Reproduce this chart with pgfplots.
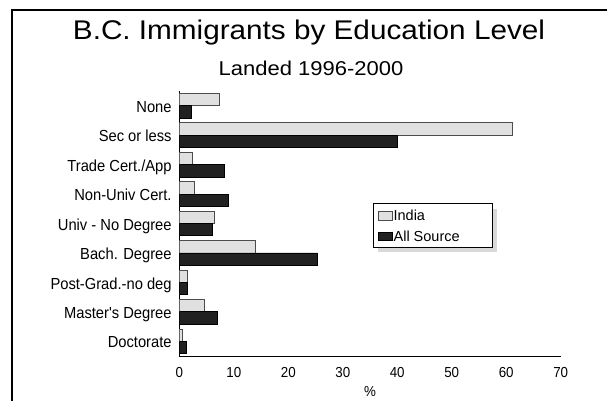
\documentclass[border=0pt]{standalone}
\usepackage{fontspec}
\setmainfont{Liberation Sans}
\newfontfamily\narrowfont{Liberation Sans}[FakeStretch=0.92]
\newfontfamily\widefont{Liberation Sans}[FakeStretch=1.1]
\usepackage{pgfplots}
\pgfplotsset{compat=1.18}
\begin{document}
\begin{tikzpicture}[x=1pt,y=1pt]
% frame (only top and left visible in the reference)
\draw[line width=2pt] (12,-2) -- (12,390) -- (609,390);
\node[anchor=base, font=\widefont\fontsize{27}{30}\selectfont, inner sep=0pt] at (309,360.7) {B.C. Immigrants by Education Level};
\node[anchor=base, font=\widefont\fontsize{20}{24}\selectfont, inner sep=0pt] at (311,325) {Landed 1996-2000};
% legend shadow
\fill[black!15] (378.3,147.7) rectangle (496.7,190.7);
\begin{axis}[
  at={(179.3pt,44pt)}, anchor=south west,
  scale only axis, width=381.4pt, height=265pt,
  xbar, bar width=0.42,
  xmin=0, xmax=70,
  ymin=-0.5, ymax=8.5, y dir=reverse,
  axis x line*=bottom, axis y line*=left,
  axis line style={-, line width=1pt, black},
  major tick length=0pt,
  xtick={0,10,...,70},
  ytick={0,...,8},
  yticklabels={None,Sec or less,Trade Cert./App,Non-Univ Cert.,Univ - No Degree,Bach. Degree,Post-Grad.-no deg,Master's Degree,Doctorate},
  yticklabel style={font=\narrowfont\fontsize{16}{18}\selectfont, anchor=east, inner sep=0pt, xshift=-7.5pt, text height=11.7pt, text depth=0pt, yshift=-0.8pt},
  xticklabel style={font=\narrowfont\fontsize{14.5}{16}\selectfont, anchor=north, inner sep=0pt, text height=10.4pt, text depth=0pt, yshift=-10.7pt},
  /pgf/number format/assume math mode=true,
  xlabel={\%},
  xlabel style={font=\narrowfont\fontsize{14.5}{16}\selectfont, at={(axis description cs:0.5,0)}, anchor=north, inner sep=0pt, text height=10.4pt, text depth=0pt, yshift=-30pt},
  legend style={at={(axis description cs:0.5087,0.576)}, anchor=north west,
    draw=black, line width=1pt, fill=white,
    inner xsep=4pt, inner ysep=5.9pt, row sep=10.2pt, column sep=1pt,
    font=\fontsize{14.5}{16}\selectfont,
    nodes={inner sep=0pt, text height=10.5pt, text depth=0pt}},
  legend cell align=left,
  legend image code/.code={\draw[#1, line width=0.8pt] (0pt,-4.95pt) rectangle (14pt,3.35pt);},
]
\addplot[bar shift=-0.21, fill=black!12, draw=black!70, line width=0.8pt] coordinates {
(7.34,0) (61.1,1) (2.4,2) (2.75,3) (6.4,4) (13.9,5) (1.4,6) (4.65,7) (0.55,8)};
\addlegendentry{\makebox[95pt][l]{India}}
\addplot[bar shift=0.21, fill=black!87, draw=black, line width=0.8pt] coordinates {
(2.2,0) (40.0,1) (8.26,2) (9.0,3) (6.0,4) (25.3,5) (1.47,6) (7.0,7) (1.35,8)};
\addlegendentry{\makebox[95pt][l]{All Source}}
\end{axis}
\pgfresetboundingbox
\path[use as bounding box] (0,0) rectangle (607,400);
\end{tikzpicture}
\end{document}
